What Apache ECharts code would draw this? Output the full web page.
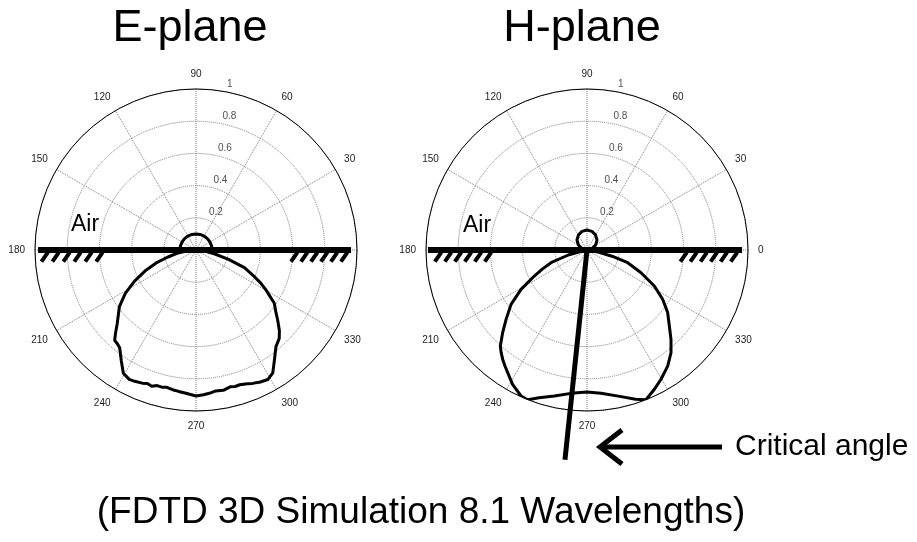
<!DOCTYPE html>
<html>
<head>
<meta charset="utf-8">
<script src="https://cdn.jsdelivr.net/npm/echarts@6/dist/echarts.min.js"></script>
<style>
  html, body { margin: 0; padding: 0; background: #fff; }
  #chart { width: 917px; height: 542px; }
</style>
</head>
<body>
<div id="chart"></div>
<script>
// Normalised radiation patterns, angles in degrees (0 = right, counter-clockwise)
const eLobeAngle = [180, 186, 190, 194, 198, 202, 207, 211.5, 216.5, 223, 226, 228, 230, 232, 236, 239.5, 242.7, 245, 248, 250, 252, 254, 256, 258, 260.5, 263, 266, 270, 273, 275.3, 278, 281, 284, 286, 288, 291, 293, 296, 299, 302, 305.5, 309.6, 313.3, 316, 319.4, 322, 325.8, 330.3, 333, 336.2, 340, 344, 348, 352, 356, 360];
const eLobeR     = [0, 0.06, 0.12, 0.18, 0.26, 0.335, 0.43, 0.515, 0.592, 0.669, 0.72, 0.755, 0.76, 0.77, 0.83, 0.889, 0.904, 0.9, 0.892, 0.883, 0.89, 0.876, 0.878, 0.872, 0.88, 0.885, 0.892, 0.907, 0.9, 0.894, 0.884, 0.888, 0.876, 0.882, 0.88, 0.89, 0.9, 0.912, 0.92, 0.9, 0.839, 0.779, 0.754, 0.72, 0.668, 0.63, 0.588, 0.5, 0.45, 0.385, 0.32, 0.21, 0.12, 0.06, 0.02, 0];
const eAirAngle  = [0, 15, 30, 45, 60, 75, 90, 105, 120, 135, 150, 165, 180];
const eAirR      = [0.1, 0.1, 0.1, 0.1, 0.1, 0.1, 0.1, 0.1, 0.1, 0.1, 0.1, 0.1, 0.1];

const hLobeAngle = [180, 190, 195, 199.4, 203, 206.3, 210.8, 215.6, 220.6, 224.4, 227.9, 230, 232.4, 235, 237.1, 241, 245.7, 248.4, 252, 257.4, 263.6, 270, 275.6, 283.1, 288, 291.5, 295.8, 299.8, 304.8, 309.3, 313.2, 317.3, 322.2, 326.9, 331.9, 337.2, 342.7, 346, 350, 355, 360];
const hLobeR     = [0, 0.02, 0.12, 0.237, 0.3, 0.365, 0.477, 0.58, 0.662, 0.733, 0.803, 0.83, 0.858, 0.885, 0.907, 0.954, 0.995, 1.0, 0.965, 0.929, 0.896, 0.882, 0.894, 0.935, 0.975, 1.0, 0.961, 0.925, 0.878, 0.824, 0.762, 0.696, 0.634, 0.561, 0.474, 0.364, 0.265, 0.16, 0.06, 0.01, 0];
const hAirAngle  = [0, 15, 30, 45, 60, 75, 90, 105, 120, 135, 150, 165, 180];
const hAirR      = [0, 0.032, 0.062, 0.088, 0.107, 0.12, 0.124, 0.12, 0.107, 0.088, 0.062, 0.032, 0];

// Critical angle ray in the H-plane (angle in degrees, length in radius units)
const criticalAngle = 264;
const criticalLength = 1.31;

// Air / ground interface: extent to the left (180°) and right (0°)
const eGround = [0.981, 0.963];
const hGround = [0.988, 0.963];
// Ground hatch positions along the interface (signed distance from centre)
const eHatches = [-0.94, -0.872, -0.804, -0.736, -0.668, -0.6, 0.61, 0.672, 0.734, 0.796, 0.858, 0.92];
const hHatches = [-0.925, -0.863, -0.801, -0.739, -0.677, -0.615, 0.6, 0.662, 0.725, 0.788, 0.85, 0.913];

// Tick labels
const radiusTicks = [0.2, 0.4, 0.6, 0.8, 1];
const radiusTickLabels = ['0.2', '0.4', '0.6', '0.8', '1'];
const radiusLabelAngle = 82;

const FONT = '"Liberation Sans", Arial, Helvetica, sans-serif';

const chart = echarts.init(document.getElementById('chart'), null, { renderer: 'canvas' });

function angleAxis(polarIndex, showZero) {
  return {
    polarIndex, type: 'value', min: 0, max: 360, interval: 30,
    startAngle: 0, clockwise: false,
    axisLine: { show: true, lineStyle: { color: '#000', width: 1 } },
    axisTick: { show: false },
    axisLabel: {
      show: true, margin: 10, fontSize: 10, color: '#222', fontFamily: FONT,
      formatter: v => (v === 0 && !showZero) || v === 360 ? '' : String(v)
    },
    splitLine: { show: true, lineStyle: { type: 'dotted', color: '#7a7a7a', width: 1 } },
    splitArea: { show: false }
  };
}

function radiusAxis(polarIndex) {
  return {
    polarIndex, type: 'value', min: 0, max: 1, interval: 0.2,
    axisLine: { show: false }, axisTick: { show: false }, axisLabel: { show: false },
    splitLine: { show: true, lineStyle: { type: 'dotted', color: '#7a7a7a', width: 1 } },
    splitArea: { show: false }
  };
}

function curve(polarIndex, angles, radii, width) {
  return {
    type: 'line', coordinateSystem: 'polar', polarIndex,
    data: radii.map((r, i) => [r, angles[i]]),
    symbol: 'none', smooth: false, clip: false, silent: true,
    lineStyle: { color: '#000', width, join: 'round', cap: 'round' },
    emphasis: { disabled: true }
  };
}

function groundLine(polarIndex, ext) {
  return {
    type: 'line', coordinateSystem: 'polar', polarIndex,
    data: [[ext[0], 180], [ext[1], 0]],
    symbol: 'none', clip: false, silent: true,
    lineStyle: { color: '#000', width: 6, cap: 'butt' },
    emphasis: { disabled: true }
  };
}

function hatchSeries(polarIndex, positions) {
  return {
    type: 'custom', coordinateSystem: 'polar', polarIndex, silent: true, clip: false,
    data: positions.map(x => [Math.abs(x), x < 0 ? 180 : 0]),
    renderItem(params, api) {
      const x = api.value(1) === 180 ? -api.value(0) : api.value(0);
      const toPt = (px, py) => api.coord([Math.hypot(px, py), (Math.atan2(py, px) * 180 / Math.PI + 360) % 360]);
      const a = toPt(x + 0.02, -0.015);
      const b = toPt(x - 0.02, -0.072);
      return {
        type: 'line',
        shape: { x1: a[0], y1: a[1], x2: b[0], y2: b[1] },
        style: { stroke: '#000', lineWidth: 4, lineCap: 'butt' }
      };
    }
  };
}

// Ray from the origin out past the rim, drawn through the polar scale
function raySeries(polarIndex, angle, length) {
  return {
    type: 'custom', coordinateSystem: 'polar', polarIndex, silent: true, clip: false,
    data: [[length, angle]],
    renderItem(params, api) {
      const a = api.coord([0, api.value(1)]);
      const b = api.coord([api.value(0), api.value(1)]);
      return {
        type: 'line',
        shape: { x1: a[0], y1: a[1], x2: b[0], y2: b[1] },
        style: { stroke: '#000', lineWidth: 5, lineCap: 'butt' }
      };
    }
  };
}

function radiusLabels(polarIndex) {
  return {
    type: 'scatter', coordinateSystem: 'polar', polarIndex, silent: true, clip: false,
    symbolSize: 1, itemStyle: { color: 'rgba(0,0,0,0)' },
    data: radiusTicks.map(r => [r, radiusLabelAngle]),
    label: {
      show: true, position: 'right', distance: 8, offset: [0, -6],
      fontSize: 10, color: '#222', fontFamily: FONT,
      formatter: p => radiusTickLabels[p.dataIndex]
    },
    emphasis: { disabled: true }
  };
}

function text(str, x, y, size, align) {
  return {
    type: 'text', x, y, silent: true,
    style: { text: str, font: size + 'px ' + FONT, fill: '#000', align: align || 'center', verticalAlign: 'middle' }
  };
}

chart.setOption({
  animation: false,
  backgroundColor: '#fff',
  polar: [
    { center: [196, 250], radius: 161 },
    { center: [587, 250], radius: 161 }
  ],
  angleAxis: [angleAxis(0, false), angleAxis(1, true)],
  radiusAxis: [radiusAxis(0), radiusAxis(1)],
  series: [
    radiusLabels(0),
    radiusLabels(1),
    curve(0, eLobeAngle, eLobeR, 3),
    curve(0, eAirAngle, eAirR, 3),
    curve(1, hLobeAngle, hLobeR, 3),
    curve(1, hAirAngle, hAirR, 3),
    groundLine(0, eGround),
    groundLine(1, hGround),
    hatchSeries(0, eHatches),
    hatchSeries(1, hHatches),
    raySeries(1, criticalAngle, criticalLength)
  ],
  graphic: [
    text('E-plane', 190, 29, 45),
    text('H-plane', 582, 29, 45),
    text('Air', 71, 225, 23, 'left'),
    text('Air', 463, 226, 23, 'left'),
    text('Critical angle', 735, 447, 30, 'left'),
    text('(FDTD 3D Simulation 8.1 Wavelengths)', 421, 513, 37),
    {
      type: 'line', silent: true,
      shape: { x1: 603, y1: 447, x2: 722, y2: 447 },
      style: { stroke: '#000', lineWidth: 5 }
    },
    {
      type: 'polyline', silent: true,
      shape: { points: [[622, 430], [600, 447], [622, 464]] },
      style: { stroke: '#000', lineWidth: 5, fill: null, lineJoin: 'miter' }
    }
  ]
});
</script>
</body>
</html>
